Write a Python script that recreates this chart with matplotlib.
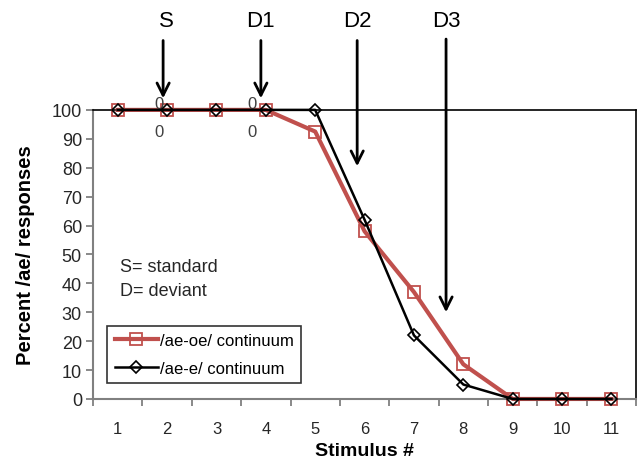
import numpy as np
import matplotlib.pyplot as plt

plt.rcParams['font.family'] = ['Liberation Sans', 'DejaVu Sans']

stimulus = [1, 2, 3, 4, 5, 6, 7, 8, 9, 10, 11]
ae_oe = [100, 100, 100, 100, 92.5, 58, 37, 12, 0, 0, 0]
ae_e = [100, 100, 100, 100, 100, 62, 22, 5, 0, 0, 0]

# arrow labels: (label, x, y_top, y_tip)
arrows = [("S", 1.92, 124, 104), ("D1", 3.90, 124, 104),
          ("D2", 5.85, 124, 80.5), ("D3", 7.65, 124.5, 30)]

red = '#C0504D'
gray = '#808080'

fig = plt.figure(figsize=(6.4, 4.64), dpi=100)
ax = fig.add_axes([0.1453, 0.138, 0.8487, 0.623])

ax.plot(stimulus, ae_oe, color=red, lw=3, marker='s', ms=9, mfc='none',
        mec=red, mew=1.3, label='/ae-oe/ continuum', zorder=3, clip_on=False)
ax.plot(stimulus, ae_e, color='black', lw=1.8, marker='D', ms=6.5, mfc='none',
        mec='black', mew=1.2, label='/ae-e/ continuum', zorder=4, clip_on=False)

ax.set_xlim(0.5, 11.5)
ax.set_ylim(0, 100)
ax.set_xticks(np.arange(0.5, 12, 1))
ax.set_xticklabels([])
ax.set_xticks(stimulus, minor=True)
ax.set_xticklabels([str(s) for s in stimulus], minor=True)
ax.tick_params(axis='x', which='major', direction='out', length=5, color=gray, width=1.3)
ax.tick_params(axis='x', which='minor', length=0, pad=16, labelsize=12, labelcolor='#262626')
ax.set_yticks(range(0, 101, 10))
ax.tick_params(axis='y', direction='out', length=5, color=gray, width=1.3, labelsize=13,
               labelcolor='#262626', pad=3)

for side in ['left', 'bottom']:
    ax.spines[side].set_color(gray)
    ax.spines[side].set_linewidth(1.5)
for side in ['top', 'right']:
    ax.spines[side].set_color('black')
    ax.spines[side].set_linewidth(1.2)

ax.set_xlabel('Stimulus #', fontsize=14, fontweight='bold', labelpad=4)
ax.set_ylabel('Percent /ae/ responses', fontsize=14.5, fontweight='bold', labelpad=12)

for lab, x, y0, y1 in arrows:
    ax.annotate('', xy=(x, y1), xytext=(x, y0), annotation_clip=False,
                arrowprops=dict(arrowstyle='->', lw=2, color='black',
                                mutation_scale=22, shrinkA=0, shrinkB=0))
    ax.text(x + (0.07 if lab == 'S' else 0), 130.8, lab, fontsize=16,
            ha='center', va='center', clip_on=False)

for x in [1.84, 3.72]:
    ax.text(x, 102.2, '0', fontsize=12, color='#404040', ha='center', va='center')
    ax.text(x, 92.4, '0', fontsize=12, color='#404040', ha='center', va='center')

ax.text(1.05, 45.7, 'S= standard', fontsize=13, color='#262626', va='center')
ax.text(1.05, 37.4, 'D= deviant', fontsize=13, color='#262626', va='center')

leg = ax.legend(loc='lower left', bbox_to_anchor=(0.026, 0.055), borderaxespad=0,
                fontsize=12, frameon=True, fancybox=False, handlelength=2.6,
                handletextpad=0.1, borderpad=0.45, labelspacing=0.75)
leg.get_frame().set_edgecolor('black')
leg.get_frame().set_linewidth(1.2)

fig.savefig('out.png', dpi=100)
